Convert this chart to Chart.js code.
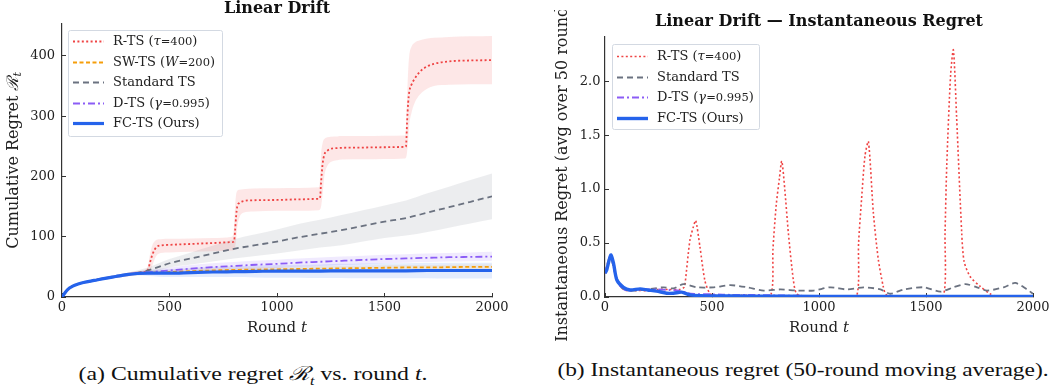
<!DOCTYPE html>
<html><head><meta charset="utf-8">
<script src="https://cdn.jsdelivr.net/npm/chart.js@4.4.1/dist/chart.umd.min.js"></script>
<style>
html,body{margin:0;padding:0;background:#fff;width:1060px;height:387px;overflow:hidden;position:relative}
#c1{position:absolute;left:0;top:0}
#c2{position:absolute;left:530px;top:10px}
.cap{position:absolute;top:359px;font-family:'Liberation Serif','Times New Roman',serif;font-size:19.5px;color:#111;text-align:center;white-space:nowrap;line-height:normal;transform-origin:50% 50%}
.cap sub{font-size:13px;line-height:0}
</style></head><body>
<canvas id="c1" width="530" height="345"></canvas>
<canvas id="c2" width="530" height="335"></canvas>
<div class="cap" style="left:3px;width:500px;transform:scaleX(1.22);">(a) Cumulative regret <i>ℛ<sub>t</sub></i> vs. round <i>t</i>.</div>
<div class="cap" style="left:553px;width:500px;transform:scaleX(1.2);">(b) Instantaneous regret (50-round moving average).</div>
<script>
// ---------- Panel (a): cumulative regret ----------
const cumRounds = [0,10,25,50,75,100,150,200,250,300,350,400,500,600,700,800,900,1000,1100,1200,1300,1400,1500,1600,1700,1800,1900,2000];
const stdCum = [0,5,12,18,21.5,24,27.5,31,34,37,40,44,56,64,72,80,86,92,99,105,111,118,125,131,140,149,158,167];
const stdHi  = [0,6,13,19.5,23,25.5,29.5,33,36.5,40,44,49,63,74,85,96,104,112,121,128,136,144,152,160,172,183,194,205];
const stdLo  = [0,4,11,16.5,20,22.5,25.5,29,31.5,34,36,39,49,54,59,64,68,72,77,82,86,92,98,102,108,115,122,129];
const dtsCum = [0,5,12,18,21.5,24,27.5,31,34,37,39.5,41,44,47,49.5,51.5,53.5,55,57,58.5,60,61.5,63,64,65,66,66.5,67];
const dtsHi  = [0,6,13,19.5,23,25.5,29.5,33,36.5,40,42.5,45,49,53,56,58,60,62,64,65.5,67,68.5,70,71,72,73,74,75];
const dtsLo  = [0,4,11,16.5,20,22.5,25.5,29,31.5,34,36.5,37,39,41,43,45,47,48,50,51.5,53,54.5,56,57,58,59,59.5,60];
const swCum  = [0,5,12,18,21.5,24,27.5,31,34,37,39,40,41.5,43,44,45,45.5,46,46.5,47,47.5,48,48.5,49,49,49.5,50,50];
const swHi   = [0,6,13,19.5,23,25.5,29.5,33,36.5,40,42,43.5,45.5,47,48,49,49.5,50,50.5,51,51.5,52,52.5,53,53,53.5,54,54];
const swLo   = [0,4,11,16.5,20,22.5,25.5,29,31.5,34,36,36.5,37.5,39,40,41,41.5,42,42.5,43,43.5,44,44.5,45,45,45.5,46,46];
const fcCum  = [0,5,12,18,21.5,24,27.5,31,34,37,39,39.5,39.5,40.5,41.5,42,42.5,43,43,43,43.5,43.5,43.5,43.5,44,44,44,44];
const fcHi   = [0,6,13,19.5,23,25.5,29.5,33,36.5,40,42.5,44,46,48,50,51,52,53,53.5,54,55,55.5,56,56,57,57,57,57];
const fcLo   = [0,4,11,16.5,20,22.5,25.5,29,31.5,34,35.5,35,33,33,33,33,32.5,32,32,31.5,31.5,31,31,31,31,30.5,30.5,30.5];

const rtsRounds = [0,10,25,50,75,100,150,200,250,300,350,390,400,410,420,430,440,460,500,600,700,790,800,805,810,815,825,843,890,1000,1100,1195,1200,1205,1212,1220,1235,1250,1280,1300,1400,1500,1595,1600,1605,1610,1615,1625,1640,1665,1700,1730,1800,1900,2000];
const rtsCum = [0,5,12,18,21.5,24,27.5,31,34,37,40,42,45,58,70,78,83,85.5,86.5,88,89.5,91,92,110,135,150,156,159,160.5,161,162,163,164,190,220,236,243,246,247,247.5,248,248.5,249,250,290,322,340,352,362,374,383,387,391,392.5,393];
const rtsHi  = [0,6,13,19.5,23,26,29.5,33,36.5,40,43,46,52,72,86,92,95,96,96.5,97,98,100,115,150,170,176,178,179,180,180.5,181,182,195,235,255,262,265,266,266.5,267,267,267.5,268,280,330,375,400,415,422,426,429,430,431.5,432.5,433];
const rtsLo  = [0,4,11,16.5,20,22,25.5,29,31.5,34,37,38,40,44,52,62,69,73,74,75,76,77,78,82,95,115,132,140,142,143,143,144,145,150,170,200,218,224,227,228,228.5,229,230,231,240,260,285,305,322,336,346,350,352,353,353];

// ---------- Panel (b): instantaneous regret (50-round moving average) ----------
const rtsInstX = [0,25,50,75,100,150,200,250,300,350,370,374,397,413,424,444,467,491,520,600,700,775,785,800,815,826,840,857,880,895,930,1000,1100,1176,1185,1199,1215,1231,1254,1277,1300,1315,1400,1500,1581,1589,1597,1615,1628,1643,1667,1678,1706,1752,1799,1830,1900,2000];
const rtsInstY = [0.22,0.38,0.2,0.09,0.06,0.06,0.06,0.07,0.07,0.07,0.09,0.12,0.53,0.65,0.71,0.46,0.15,0.03,0.015,0.015,0.015,0.02,0.45,0.85,1.1,1.26,1.0,0.59,0.16,0.03,0.01,0.01,0.01,0.01,0.5,0.91,1.31,1.44,0.78,0.35,0.1,0.02,0.01,0.01,0.01,0.6,1.22,2.06,2.29,1.67,0.59,0.33,0.19,0.1,0.03,0.005,0.005,0.005];
const stdInstX = [0,25,50,75,117,195,273,320,367,430,508,586,664,742,820,897,975,1053,1131,1209,1287,1333,1396,1489,1567,1629,1684,1738,1785,1863,1917,1972,2000];
const stdInstY = [0.22,0.37,0.2,0.09,0.06,0.07,0.09,0.08,0.12,0.09,0.09,0.11,0.09,0.06,0.07,0.06,0.06,0.09,0.07,0.09,0.07,0.03,0.07,0.09,0.05,0.09,0.12,0.09,0.06,0.09,0.13,0.07,0.03];
const dtsInstX = [0,25,50,75,100,150,200,250,300,350,380,400,500,600,700,800,1000,1500,2000];
const dtsInstY = [0.22,0.38,0.2,0.09,0.06,0.07,0.07,0.07,0.065,0.06,0.04,0.03,0.025,0.02,0.02,0.015,0.01,0.01,0.01];
const fcInstX = [0,8,27,40,55,86,117,164,200,241,288,320,358,397,450,500,700,1000,1500,2000];
const fcInstY = [0.22,0.25,0.39,0.31,0.16,0.09,0.065,0.075,0.065,0.055,0.035,0.035,0.045,0.02,0.012,0.01,0.008,0.005,0.005,0.005];

// legend labels: [plain text, italic symbol, parameter value, closing]
const labelParts = {
  rts: ['R-TS (', 'τ', '=400', ')'],
  sw:  ['SW-TS (', 'W', '=200', ')'],
  std: ['Standard TS', '', '', ''],
  dts: ['D-TS (', 'γ', '=0.995', ')'],
  fc:  ['FC-TS (Ours)', '', '', '']
};
const colors = {rts:'#ef4444', sw:'#f59e0b', std:'#6b7280', dts:'#8b5cf6', fc:'#2563eb'};
const bands = {rts:'rgba(239,68,68,0.13)', sw:'rgba(245,158,11,0.10)', std:'rgba(107,114,128,0.13)', dts:'rgba(139,92,246,0.13)', fc:'rgba(37,99,235,0.12)'};
const dashes = {rts:[2,2.4], sw:[4,2.5], std:[6,4], dts:[7,3,2,3], fc:[]};
const widths = {rts:1.8, sw:1.8, std:1.8, dts:1.8, fc:3.2};

const FAM = "'DejaVu Serif', serif";
const pts = (xs, ys) => xs.map((x, i) => ({x: x, y: ys[i]}));

function lineDS(key, xs, ys, order) {
  return {label: labelParts[key].join(''), parts: labelParts[key], inLegend: true, data: pts(xs, ys),
    borderColor: colors[key], backgroundColor: colors[key],
    borderWidth: widths[key], borderDash: dashes[key], pointRadius: 0, fill: false, order: order,
    cubicInterpolationMode: 'monotone'};
}
function bandDS(key, xs, hi, lo) {
  return [
    {label: '_' + key + 'Hi', data: pts(xs, hi), borderWidth: 0, borderColor: 'rgba(0,0,0,0)', pointRadius: 0, fill: false, order: 20, cubicInterpolationMode: 'monotone'},
    {label: '_' + key + 'Lo', data: pts(xs, lo), borderWidth: 0, borderColor: 'rgba(0,0,0,0)', pointRadius: 0, fill: '-1', backgroundColor: bands[key], order: 20, cubicInterpolationMode: 'monotone'}
  ];
}

// draw a run of text segments [{t, f, dy}]
function drawRun(ctx, segs, x, y, align) {
  let total = 0;
  segs.forEach(s => { ctx.font = s.f; total += ctx.measureText(s.t).width; });
  let cx = align === 'center' ? x - total / 2 : x;
  ctx.textAlign = 'left';
  segs.forEach(s => { ctx.font = s.f; ctx.fillText(s.t, cx, y + (s.dy || 0)); cx += ctx.measureText(s.t).width; });
}

const legendBox = {
  id: 'legendBox',
  afterDraw(chart, args, o) {
    const {ctx, chartArea} = chart;
    const x0 = chartArea.left + o.dx, y0 = chartArea.top + o.dy;
    ctx.save();
    ctx.beginPath();
    if (ctx.roundRect) ctx.roundRect(x0 + 0.5, y0 + 0.5, o.w, o.h, 2); else ctx.rect(x0 + 0.5, y0 + 0.5, o.w, o.h);
    ctx.fillStyle = 'rgba(255,255,255,0.85)';
    ctx.fill();
    ctx.strokeStyle = '#d3d9e2';
    ctx.lineWidth = 1;
    ctx.stroke();
    const items = chart.data.datasets.filter(d => d.inLegend);
    items.forEach((d, i) => {
      const y = Math.round(y0 + o.first + i * o.gap) + 0.5;
      ctx.beginPath();
      ctx.setLineDash(d.borderDash || []);
      ctx.lineWidth = d.borderWidth;
      ctx.strokeStyle = d.borderColor;
      ctx.moveTo(x0 + 5, y); ctx.lineTo(x0 + 36, y); ctx.stroke();
      ctx.setLineDash([]);
      ctx.fillStyle = '#222';
      ctx.textBaseline = 'middle';
      const p = d.parts;
      drawRun(ctx, [
        {t: p[0], f: '13px ' + FAM},
        {t: p[1], f: 'italic 13px ' + FAM},
        {t: p[2], f: '11.5px ' + FAM, dy: 0.5},
        {t: p[3], f: '13px ' + FAM}
      ], x0 + 45, y, 'left');
    });
    ctx.restore();
  }
};
const extraText = {
  id: 'extraText',
  afterDraw(chart, args, o) {
    const {ctx, chartArea} = chart;
    const cx = (chartArea.left + chartArea.right) / 2;
    ctx.save();
    ctx.textBaseline = 'middle';
    ctx.fillStyle = '#111';
    drawRun(ctx, [{t: o.title, f: 'bold 16px ' + FAM}], cx, o.titleY, 'center');
    ctx.fillStyle = '#222';
    drawRun(ctx, [{t: 'Round ', f: '15px ' + FAM}, {t: 't', f: 'italic 15px ' + FAM}], cx, o.xTitleY, 'center');
    ctx.translate(o.yTitleX, (chartArea.top + chartArea.bottom) / 2);
    ctx.rotate(-Math.PI / 2);
    drawRun(ctx, o.ySegs, 0, 0, 'center');
    ctx.restore();
  }
};

function axes(yMax, yStep, yWidth, yPad, fmt) {
  return {
    x: {type: 'linear', min: 0, max: 2000,
      ticks: {stepSize: 500, includeBounds: false, font: {family: FAM, size: 13}, color: '#222', padding: 7, maxRotation: 0, callback: v => String(v)},
      grid: {drawOnChartArea: false, drawTicks: true, tickLength: -4, color: '#333'},
      border: {display: true, color: '#333', width: 1.2},
      afterFit: s => { s.height = 48; }
    },
    y: {type: 'linear', min: 0, max: yMax,
      ticks: {stepSize: yStep, includeBounds: false, font: {family: FAM, size: 13}, color: '#222', padding: yPad, callback: fmt},
      grid: {drawOnChartArea: false, drawTicks: true, tickLength: -4, color: '#333'},
      border: {display: true, color: '#333', width: 1.2},
      afterFit: s => { s.width = yWidth; }
    }
  };
}

const dsA = [
  ...bandDS('rts', rtsRounds, rtsHi, rtsLo),
  ...bandDS('std', cumRounds, stdHi, stdLo),
  ...bandDS('dts', cumRounds, dtsHi, dtsLo),
  ...bandDS('sw', cumRounds, swHi, swLo),
  ...bandDS('fc', cumRounds, fcHi, fcLo),
  lineDS('rts', rtsRounds, rtsCum, 5),
  lineDS('sw', cumRounds, swCum, 4),
  lineDS('std', cumRounds, stdCum, 3),
  lineDS('dts', cumRounds, dtsCum, 2),
  lineDS('fc', cumRounds, fcCum, 1)
];

new Chart(document.getElementById('c1'), {
  type: 'line',
  data: {datasets: dsA},
  options: {
    responsive: false, animation: false, devicePixelRatio: 1,
    layout: {padding: {top: 24, right: 38, left: 0, bottom: 0}},
    scales: axes(453, 100, 62, 11, v => String(v)),
    plugins: {
      legend: {display: false}, tooltip: {enabled: false},
      legendBox: {dx: 6, dy: 6, w: 154, h: 106, first: 11, gap: 20.5},
      extraText: {title: 'Linear Drift', titleY: 9, xTitleY: 328, yTitleX: 14,
        ySegs: [{t: 'Cumulative Regret ', f: '16px ' + FAM}, {t: 'ℛ', f: 'italic 16px ' + FAM}, {t: 't', f: 'italic 11px ' + FAM, dy: 4}]}
    }
  },
  plugins: [legendBox, extraText]
});

const dsB = [
  lineDS('rts', rtsInstX, rtsInstY, 4),
  lineDS('std', stdInstX, stdInstY, 3),
  lineDS('dts', dtsInstX, dtsInstY, 2),
  lineDS('fc', fcInstX, fcInstY, 1)
];
dsB.forEach(d => { d.cubicInterpolationMode = 'default'; d.tension = 0.25; });
dsB[0].borderWidth = 1.6;
dsB[3].borderWidth = 3.4;

new Chart(document.getElementById('c2'), {
  type: 'line',
  data: {datasets: dsB},
  options: {
    responsive: false, animation: false, devicePixelRatio: 1,
    layout: {padding: {top: 27, right: 27, left: 0, bottom: 0}},
    scales: axes(2.41, 0.5, 75, 8.5, v => v.toFixed(1)),
    plugins: {
      legend: {display: false}, tooltip: {enabled: false},
      legendBox: {dx: 7, dy: 7, w: 147, h: 85, first: 12, gap: 20.7},
      extraText: {title: 'Linear Drift — Instantaneous Regret', titleY: 12, xTitleY: 318, yTitleX: 33,
        ySegs: [{t: 'Instantaneous Regret (avg over 50 rounds)', f: '16px ' + FAM}]}
    }
  },
  plugins: [legendBox, extraText]
});
</script>
</body></html>
